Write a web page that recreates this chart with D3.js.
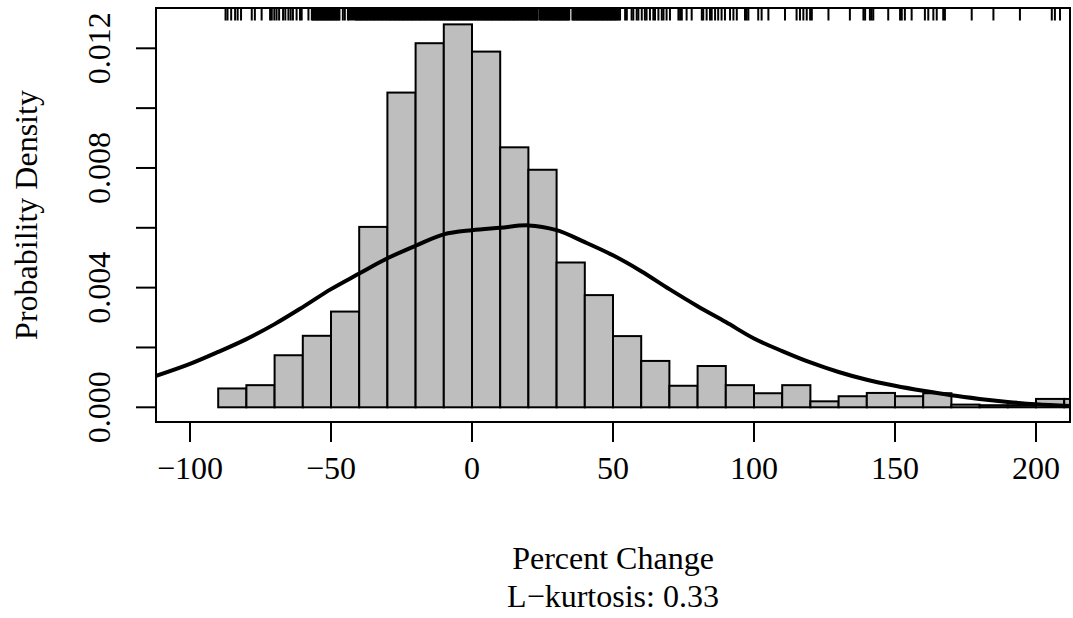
<!DOCTYPE html>
<html>
<head>
<meta charset="utf-8">
<script src="https://cdn.jsdelivr.net/npm/d3@7"></script>
<style>
  body { margin: 0; background: #fff; }
  text { font-family: "Liberation Serif", "Times New Roman", serif; fill: #000; }
</style>
</head>
<body>
<script>
// histogram: bin starts (width 10) and densities
var binStarts = [-90, -80, -70, -60, -50, -40, -30, -20, -10, 0, 10, 20, 30, 40, 50, 60, 70, 80, 90,
                 100, 110, 120, 130, 140, 150, 160, 170, 180, 190, 200, 210];
var binDensity = [0.00063, 0.00074, 0.00174, 0.00239, 0.00320, 0.00603, 0.01052, 0.01217, 0.01280, 0.01189,
                  0.00869, 0.00794, 0.00484, 0.00375, 0.00238, 0.00155, 0.00072, 0.00138, 0.00074,
                  0.00047, 0.00074, 0.00020, 0.00037, 0.00048, 0.00037, 0.00047, 0.00009, 0.00007, 0.00007,
                  0.00028, 0.00028];

// density curve
var densX = [-112, -100, -90, -80, -70, -60, -50, -40, -30, -20, -10, 0, 10, 20, 30, 40, 50, 60, 70, 80, 90,
             100, 110, 120, 130, 140, 150, 160, 170, 180, 190, 200, 212];
var densY = [0.00105, 0.00145, 0.00185, 0.00228, 0.00278, 0.00335, 0.00395, 0.00447, 0.00498, 0.00540, 0.00578,
             0.00592, 0.00600, 0.00608, 0.00592, 0.00552, 0.00508, 0.00455, 0.00395, 0.00338, 0.00285,
             0.00230, 0.00188, 0.00150, 0.00118, 0.00092, 0.00072, 0.00055, 0.00040, 0.00028, 0.00018, 0.00010, 0.00004];

// rug values (percent change of each observation)
var rugValues = (
  "-87.4 -86.7 -85.4 -84.0 -83.1 -81.9 -78.1 -77.0 -74.6 -71.6 -71.0 -70.1 -69.3 -68.4 -67.0 -66.2 -65.1 -64.3 -63.5 -62.2 -61.0 -60.4 -58.0 " +
  "-56.8 -56.4 -56.1 -55.7 -55.3 -55.0 -54.6 -54.3 -53.9 -53.5 -53.2 -52.8 -52.4 -52.1 -51.7 -51.3 -51.0 -50.6 -50.3 -49.9 -49.5 -49.2 -48.8 -48.4 -48.1 -47.7 -47.3 -47.0 " +
  "-45.8 -45.1 -44.0 -43.6 -42.9 -42.2 " +
  "-41.5 -41.1 -40.8 -40.4 -40.0 -39.7 -39.3 -39.0 -38.6 -38.2 -37.9 -37.5 -37.2 -36.8 -36.4 -36.1 -35.7 -35.3 -35.0 -34.6 -34.3 -33.9 -33.5 -33.2 -32.8 -32.4 -32.1 -31.7 -31.4 -31.0 " +
  "-30.6 -30.3 -29.9 -29.5 -29.2 -28.8 -28.5 -28.1 -27.7 -27.4 -27.0 -26.7 -26.3 -25.9 -25.6 -25.2 -24.8 -24.5 -24.1 -23.8 -23.4 -23.0 -22.7 -22.3 -21.9 -21.6 -21.2 -20.9 -20.5 -20.1 " +
  "-19.8 -19.4 -19.0 -18.7 -18.3 -18.0 -17.6 -17.2 -16.9 -16.5 -16.2 -15.8 -15.4 -15.1 -14.7 -14.3 -14.0 -13.6 -13.3 -12.9 -12.5 -12.2 -11.8 -11.4 -11.1 -10.7 -10.4 -10.0 " +
  "-9.6 -9.3 -8.9 -8.5 -8.2 -7.8 -7.5 -7.1 -6.7 -6.4 -6.0 -5.7 -5.3 -4.9 -4.6 -4.2 -3.8 -3.5 -3.1 -2.8 -2.4 -2.0 -1.7 -1.3 -0.9 -0.6 -0.2 " +
  "0.1 0.5 0.9 1.2 1.6 2.0 2.3 2.7 3.0 3.4 3.8 4.1 4.5 4.9 5.2 5.6 5.9 6.3 6.7 7.0 7.4 7.7 8.1 8.5 8.8 9.2 9.6 9.9 " +
  "10.3 10.6 11.0 11.4 11.7 12.1 12.5 12.8 13.2 13.5 13.9 14.3 14.6 15.0 15.3 15.7 16.1 16.4 16.8 17.2 17.5 17.9 18.2 18.6 19.0 19.3 19.7 " +
  "20.1 20.4 20.8 21.1 21.5 21.9 22.2 22.6 22.9 23.3 " +
  "24.0 24.4 24.7 25.1 25.5 25.8 26.2 26.5 26.9 27.3 27.6 28.0 28.4 28.7 29.1 29.4 29.8 30.2 30.5 30.9 31.2 31.6 32.0 32.3 32.7 33.1 33.4 33.8 34.1 34.5 " +
  "35.6 36.0 36.3 36.7 37.1 37.4 37.8 38.1 38.5 38.9 39.2 39.6 39.9 40.3 40.7 41.0 41.4 41.8 42.1 42.5 42.8 43.2 43.6 43.9 44.3 44.6 " +
  "45.0 45.4 45.8 46.1 46.5 46.8 47.2 47.6 47.9 48.3 48.7 49.0 49.4 49.7 50.1 50.5 50.8 51.2 51.6 52.0 52.5 " +
  "54.3 54.9 56.6 57.2 58.4 59.0 60.2 61.3 61.9 63.1 64.3 64.9 66.1 67.3 67.9 69.0 70.2 73.2 73.8 74.4 76.1 77.9 " +
  "81.5 82.0 83.2 84.4 85.0 86.2 87.3 88.5 89.7 91.5 92.7 93.9 96.8 97.4 98.0 101.5 102.7 105.1 111.0 " +
  "115.1 116.3 117.5 118.7 119.9 120.5 126.4 134.0 138.8 139.4 141.1 141.7 142.3 147.6 151.8 152.4 153.5 155.9 " +
  "160.6 161.8 163.6 164.8 167.1 167.7 177.2 184.9 194.3 205.6 206.7 208.5"
).split(" ").map(Number);

var xTicks = [-100, -50, 0, 50, 100, 150, 200];
var yTicks = [0, 0.004, 0.008, 0.012];
var yMinorTicks = [0.002, 0.006, 0.010];

var xlabel = "Percent Change",
    ylabel = "Probability Density",
    sublabel = "L\u2212kurtosis: 0.33";

var width = 1073, height = 618,
    plot = {left: 156, right: 1070, top: 8, bottom: 422},
    fontSize = 32;

var fmtX = function(d) { return d < 0 ? "\u2212" + Math.abs(d) : String(d); };
var fmtY = d3.format(".3f");

var xScale = d3.scaleLinear().domain([-100, 200]).range([190, 1036]);
var yScale = d3.scaleLinear().domain([0, 0.012]).range([407.3, 48.3]);

var svg = d3.select("body").append("svg")
    .attr("width", width)
    .attr("height", height);

svg.append("defs").append("clipPath").attr("id", "clip")
  .append("rect")
    .attr("x", plot.left).attr("y", plot.top)
    .attr("width", plot.right - plot.left)
    .attr("height", plot.bottom - plot.top);

var inner = svg.append("g").attr("clip-path", "url(#clip)");

// bars
inner.selectAll("rect.bar")
  .data(binStarts)
  .enter().append("rect")
    .attr("class", "bar")
    .attr("x", function(d) { return xScale(d); })
    .attr("y", function(d, i) { return yScale(binDensity[i]); })
    .attr("width", function(d) { return xScale(d + 10) - xScale(d); })
    .attr("height", function(d, i) { return yScale(0) - yScale(binDensity[i]); })
    .attr("fill", "#bebebe")
    .attr("stroke", "#000")
    .attr("stroke-width", 2);

// density line
var line = d3.line()
    .x(function(d, i) { return xScale(densX[i]); })
    .y(function(d) { return yScale(d); })
    .curve(d3.curveCatmullRom);

inner.append("path")
    .datum(densY)
    .attr("d", line)
    .attr("fill", "none")
    .attr("stroke", "#000")
    .attr("stroke-width", 4);

// rug on top side
inner.selectAll("line.rug")
  .data(rugValues)
  .enter().append("line")
    .attr("class", "rug")
    .attr("x1", function(d) { return xScale(d); })
    .attr("x2", function(d) { return xScale(d); })
    .attr("y1", plot.top)
    .attr("y2", plot.top + 12.5)
    .attr("stroke", "#000")
    .attr("stroke-width", 2);

// box
svg.append("rect")
    .attr("x", plot.left).attr("y", plot.top)
    .attr("width", plot.right - plot.left)
    .attr("height", plot.bottom - plot.top)
    .attr("fill", "none")
    .attr("stroke", "#000")
    .attr("stroke-width", 2);

// x axis ticks
var gx = svg.append("g");
gx.selectAll("line")
  .data(xTicks)
  .enter().append("line")
    .attr("x1", function(d) { return xScale(d); })
    .attr("x2", function(d) { return xScale(d); })
    .attr("y1", plot.bottom)
    .attr("y2", plot.bottom + 20)
    .attr("stroke", "#000")
    .attr("stroke-width", 2);
gx.selectAll("text")
  .data(xTicks)
  .enter().append("text")
    .attr("x", function(d) { return xScale(d); })
    .attr("y", 479)
    .attr("text-anchor", "middle")
    .style("font-size", fontSize + "px")
    .text(fmtX);

// y axis ticks
var gy = svg.append("g");
gy.selectAll("line")
  .data(yTicks.concat(yMinorTicks))
  .enter().append("line")
    .attr("x1", plot.left)
    .attr("x2", plot.left - 20)
    .attr("y1", function(d) { return yScale(d); })
    .attr("y2", function(d) { return yScale(d); })
    .attr("stroke", "#000")
    .attr("stroke-width", 2);
gy.selectAll("text")
  .data(yTicks)
  .enter().append("text")
    .attr("transform", function(d) { return "translate(110," + yScale(d) + ") rotate(-90)"; })
    .attr("text-anchor", "middle")
    .style("font-size", fontSize + "px")
    .text(fmtY);

// labels
svg.append("text")
    .attr("x", (plot.left + plot.right) / 2)
    .attr("y", 569)
    .attr("text-anchor", "middle")
    .style("font-size", fontSize + "px")
    .text(xlabel);

svg.append("text")
    .attr("x", (plot.left + plot.right) / 2)
    .attr("y", 607)
    .attr("text-anchor", "middle")
    .style("font-size", fontSize + "px")
    .text(sublabel);

svg.append("text")
    .attr("transform", "translate(37," + (plot.top + plot.bottom) / 2 + ") rotate(-90)")
    .attr("text-anchor", "middle")
    .style("font-size", fontSize + "px")
    .text(ylabel);
</script>
</body>
</html>
